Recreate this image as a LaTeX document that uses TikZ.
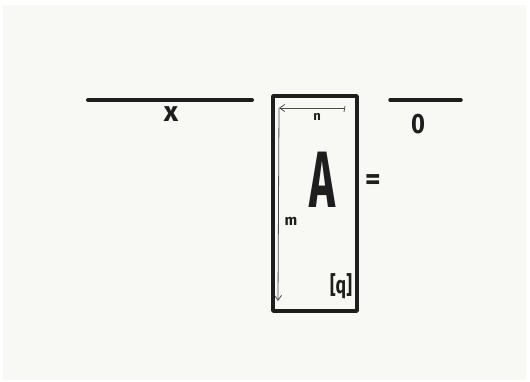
\documentclass[tikz,border=0pt]{standalone}
\usepackage{fontspec}
\setmainfont{Fira Sans}
\usetikzlibrary{arrows.meta}
\definecolor{ink}{HTML}{1E1E1E}
\definecolor{paper}{HTML}{F8F8F4}
\begin{document}
\begin{tikzpicture}[x=1pt,y=-1pt,
  thickline/.style={draw=ink,line width=4pt,line cap=round},
  boxstyle/.style={draw=ink,line width=3.5pt,line join=round},
  dimline/.style={draw=ink!80,line width=0.8pt,-{Straight Barb[length=5pt,width=7pt]}},
  lbl/.style={text=ink,inner sep=0pt,anchor=center}]
\useasboundingbox (0,0) rectangle (530,381);
\fill[white] (0,0) rectangle (530,381);
\fill[paper] (3,5) rectangle (526,380);
% x vector
\coordinate (xl) at (88,100);
\coordinate (xr) at (252,100);
\draw[thickline] (xl) -- (xr);
\node[lbl,font=\fontsize{28}{28}\selectfont\bfseries] (xlab) at (171,114) {x};
% matrix box
\node[boxstyle,minimum width=84pt,minimum height=215pt,inner sep=0pt] (box) at (315,203.5) {};
\node[lbl,font=\fontsize{80}{80}\selectfont\bfseries] (A) at (322,180) {\scalebox{0.55}[1]{A}};
% dimension arrows
\coordinate (ntop) at (345,108);
\coordinate (corner) at (279,108);
\coordinate (mbot) at (278,301);
\draw[dimline] (ntop) -- (corner);
\draw[ink!80,line width=0.8pt] (ntop) ++(0,-2) -- ++(-1,6);
\draw[dimline] (corner) -- (mbot);
\node[lbl,font=\fontsize{13}{13}\selectfont\bfseries] (nlab) at (317,117) {n};
\node[lbl,font=\fontsize{15}{15}\selectfont\bfseries] (mlab) at (291,221) {m};
\node[lbl,font=\fontsize{22}{22}\selectfont\bfseries] (q) at (341,286) {\scalebox{0.8}[1.1]{[q]}};
% equals
\node[lbl,font=\fontsize{30}{30}\selectfont\bfseries] (eq) at (373,182) {=};
% zero vector
\coordinate (zl) at (390,100);
\coordinate (zr) at (461,100);
\draw[thickline,line width=3.5pt] (zl) -- (zr);
\node[lbl,font=\fontsize{28}{28}\selectfont\bfseries] (zero) at (418,124) {\scalebox{0.85}[1]{0}};
\end{tikzpicture}
\end{document}
